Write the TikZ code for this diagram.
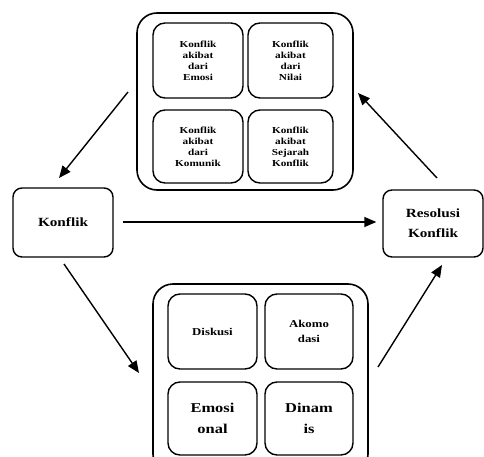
\documentclass[tikz,border=0pt]{standalone}
\usepackage{fontspec}
\setmainfont[FakeStretch=1.22]{Liberation Serif}
\usetikzlibrary{arrows.meta}
\tikzset{
  outerbox/.style={draw, line width=1.6pt, rounded corners=20pt, inner sep=0pt},
  innerbox/.style={draw, line width=1.4pt, rounded corners=12pt, align=center, inner sep=0pt,
    font=\fontsize{9.2}{11}\selectfont\bfseries},
  midtext/.style={font=\fontsize{10.5}{14.5}\selectfont\bfseries},
  bigtext/.style={font=\fontsize{13.5}{20.5}\selectfont\bfseries},
  mainbox/.style={draw, line width=1.4pt, rounded corners=9pt, align=center, inner sep=0pt,
    font=\fontsize{12.5}{20}\selectfont\bfseries},
  arr/.style={line width=1.4pt, -{Triangle[length=12pt,width=10pt]}}
}
\begin{document}
\begin{tikzpicture}[x=1pt,y=-1pt]
\clip (0,0) rectangle (484,457);
\fill[white] (0,0) rectangle (484,457);
% top group
\node[outerbox, minimum width=216pt, minimum height=177pt] (top) at (245,101.5) {};
\node[innerbox, minimum width=90pt, minimum height=75pt] (t1) at (198,60.5) {Konflik\\akibat\\dari\\Emosi};
\node[innerbox, minimum width=85pt, minimum height=75pt] (t2) at (290.5,60.5) {Konflik\\akibat\\dari\\Nilai};
\node[innerbox, minimum width=90pt, minimum height=73pt] (t3) at (198,146.5) {Konflik\\akibat\\dari\\Komunik};
\node[innerbox, minimum width=85pt, minimum height=73pt] (t4) at (290.5,146.5) {Konflik\\akibat\\Sejarah\\Konflik};
% bottom group
\node[outerbox, minimum width=215pt, minimum height=190pt] (bot) at (260.5,379) {};
\node[innerbox, midtext, minimum width=89pt, minimum height=75pt] (b1) at (212.5,331.5) {Diskusi};
\node[innerbox, midtext, minimum width=88pt, minimum height=75pt] (b2) at (309,331.5) {Akomo\\dasi};
\node[innerbox, bigtext, minimum width=89pt, minimum height=73pt] (b3) at (212.5,418.5) {Emosi\\onal};
\node[innerbox, bigtext, minimum width=88pt, minimum height=73pt] (b4) at (309,418.5) {Dinam\\is};
% main boxes
\node[mainbox, minimum width=100pt, minimum height=69pt] (konflik) at (63,222.5) {Konflik};
\node[mainbox, minimum width=100pt, minimum height=67pt] (resolusi) at (433,223.5) {Resolusi\\Konflik};
% arrow end points
\coordinate (a1s) at (128,92);
\coordinate (a1e) at (59,178);
\coordinate (a3s) at (64,264);
\coordinate (a3e) at (139,373);
\coordinate (a4s) at (378,367);
\coordinate (a4e) at (442,265);
\coordinate (a5s) at (437,178);
\coordinate (a5e) at (358,93);
\draw[arr] (a1s) -- (a1e);
\draw[arr, shorten <=9pt, shorten >=6pt] (konflik.east |- 0,222) -- (resolusi.west |- 0,222);
\draw[arr] (a3s) -- (a3e);
\draw[arr] (a4s) -- (a4e);
\draw[arr] (a5s) -- (a5e);
\end{tikzpicture}
\end{document}
